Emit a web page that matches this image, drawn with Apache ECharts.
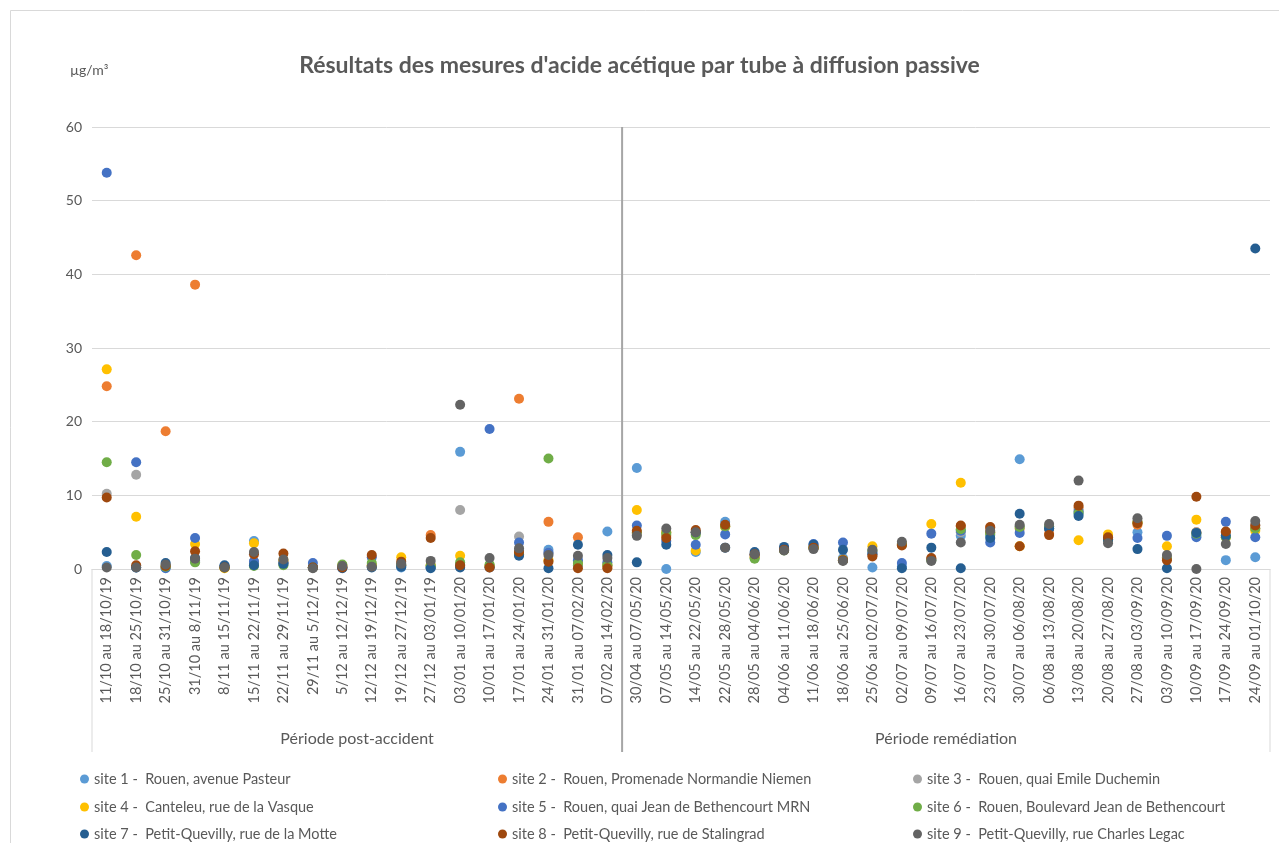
<!DOCTYPE html>
<html>
<head>
<meta charset="utf-8">
<title>Acide acétique</title>
<script src="https://cdn.jsdelivr.net/npm/echarts@6/dist/echarts.min.js"></script>
<style>
  html, body { margin: 0; padding: 0; background: #fff; }
  #main { width: 1279px; height: 843px; }
</style>
</head>
<body>
<div id="main"></div>
<script>
// periodes de mesure (axe des categories)
const categories = [
  '11/10 au 18/10/19', '18/10 au 25/10/19', '25/10 au 31/10/19', '31/10 au 8/11/19',
  '8/11 au 15/11/19', '15/11 au 22/11/19', '22/11 au 29/11/19', '29/11 au 5/12/19',
  '5/12 au 12/12/19', '12/12 au 19/12/19', '19/12 au 27/12/19', '27/12 au 03/01/19',
  '03/01 au 10/01/20', '10/01 au 17/01/20', '17/01 au 24/01/20', '24/01 au 31/01/20',
  '31/01 au 07/02/20', '07/02 au 14/02/20',
  '30/04 au 07/05/20', '07/05 au 14/05/20', '14/05 au 22/05/20', '22/05 au 28/05/20',
  '28/05 au 04/06/20', '04/06 au 11/06/20', '11/06 au 18/06/20', '18/06 au 25/06/20',
  '25/06 au 02/07/20', '02/07 au 09/07/20', '09/07 au 16/07/20', '16/07 au 23/07/20',
  '23/07 au 30/07/20', '30/07 au 06/08/20', '06/08 au 13/08/20', '13/08 au 20/08/20',
  '20/08 au 27/08/20', '27/08 au 03/09/20', '03/09 au 10/09/20', '10/09 au 17/09/20',
  '17/09 au 24/09/20', '24/09 au 01/10/20'
];
const periods = ['Période post-accident', 'Période remédiation'];
const periodSplit = 18; // nb de categories dans la 1ere periode

const siteNames = [
  'site 1 -  Rouen, avenue Pasteur',
  'site 2 -  Rouen, Promenade Normandie Niemen',
  'site 3 -  Rouen, quai Emile Duchemin',
  'site 4 -  Canteleu, rue de la Vasque',
  'site 5 -  Rouen, quai Jean de Bethencourt MRN',
  'site 6 -  Rouen, Boulevard Jean de Bethencourt',
  'site 7 -  Petit-Quevilly, rue de la Motte',
  'site 8 -  Petit-Quevilly, rue de Stalingrad',
  'site 9 -  Petit-Quevilly, rue Charles Legac'
];
const siteColors = ['#5B9BD5', '#ED7D31', '#A5A5A5', '#FFC000', '#4472C4', '#70AD47', '#255E91', '#9E480E', '#636363'];

const site1 = [0.4, 0.2, 0.2, 1.0, 0.3, 3.8, 0.9, 0.2, 0.2, 0.3, 0.2, 0.3, 15.9, 0.3, 2.5, 2.6, 0.5, 5.1,
  13.7, 0.0, 2.3, 6.4, 1.5, 2.6, 2.9, 1.5, 0.2, 0.3, 1.3, 4.5, 4.6, 14.9, 5.5, 7.5, 4.0, 5.0, 1.5, 4.5, 1.2, 1.6];
const site2 = [24.8, 42.6, 18.7, 38.6, 0.2, 0.8, 0.8, 0.2, 0.3, 0.4, 0.5, 4.6, 0.3, 0.3, 23.1, 6.4, 4.3, 0.3,
  4.8, 4.5, 5.0, 5.8, 1.8, 2.7, 2.9, 1.3, 1.9, 3.3, 1.4, 5.8, 5.6, 5.5, 4.8, 8.3, 4.3, 6.0, 1.5, 5.0, 5.0, 5.5];
const site3 = [10.2, 12.8, 0.3, 1.2, 0.2, 1.0, 1.0, 0.2, 0.2, 0.5, 0.6, 0.5, 8.0, 0.4, 4.4, 2.2, 1.0, 0.5,
  4.6, 5.0, 4.9, 5.9, 1.8, 2.6, 2.9, 1.2, 2.4, 3.5, 1.2, 5.0, 5.0, 5.8, 5.8, 8.0, 3.8, 6.5, 1.6, 5.0, 4.5, 6.0];
const site4 = [27.1, 7.1, 0.3, 3.4, 0.1, 3.5, 1.2, 0.2, 0.5, 0.5, 1.6, 0.5, 1.8, 0.5, 2.0, 1.2, 0.8, 0.6,
  8.0, 5.0, 2.5, 5.7, 1.6, 2.6, 2.9, 1.2, 3.1, 3.4, 6.1, 11.7, 5.0, 3.1, 5.5, 3.9, 4.7, 6.3, 3.1, 6.7, 4.3, 5.2];
const site5 = [53.8, 14.5, 0.1, 4.2, 0.4, 1.0, 0.8, 0.8, 0.2, 1.6, 0.4, 0.2, 0.6, 19.0, 3.6, 2.2, 1.2, 0.9,
  5.9, 3.8, 3.3, 4.7, 2.0, 2.8, 3.4, 3.6, 2.2, 0.8, 4.8, 5.2, 3.6, 4.9, 5.5, 7.8, 4.0, 4.2, 4.5, 4.3, 6.4, 4.3];
const site6 = [14.5, 1.9, 0.3, 0.9, 0.2, 0.4, 0.5, 0.2, 0.6, 0.8, 0.5, 0.4, 0.9, 0.6, 2.0, 15.0, 0.7, 0.5,
  5.0, 4.8, 4.6, 5.8, 1.4, 2.5, 2.9, 1.2, 2.5, 3.3, 1.2, 5.4, 4.8, 5.7, 5.8, 7.6, 4.0, 6.3, 1.4, 4.8, 4.3, 5.5];
const site7 = [2.3, 0.2, 0.8, 1.5, 0.5, 0.5, 0.7, 0.2, 0.1, 0.2, 0.3, 0.1, 0.2, 0.2, 1.8, 0.1, 3.3, 1.9,
  0.9, 3.3, 5.0, 2.9, 2.3, 3.0, 3.3, 2.6, 2.0, 0.1, 2.9, 0.1, 4.2, 7.5, 5.5, 7.2, 4.0, 2.7, 0.1, 4.9, 4.5, 43.5];
const site8 = [9.7, 0.5, 0.4, 2.4, 0.2, 2.0, 2.1, 0.2, 0.2, 1.9, 1.0, 4.2, 0.5, 0.2, 2.3, 1.0, 0.1, 0.1,
  5.2, 4.2, 5.3, 6.0, 2.0, 2.6, 2.9, 1.2, 1.7, 3.2, 1.5, 5.9, 5.7, 3.1, 4.6, 8.6, 4.3, 6.2, 1.2, 9.8, 5.1, 5.9];
const site9 = [0.2, 0.2, 0.6, 1.4, 0.2, 2.3, 1.3, 0.1, 0.4, 0.3, 0.7, 1.1, 22.3, 1.5, 2.8, 1.9, 1.8, 1.5,
  4.5, 5.5, 5.0, 2.9, 2.0, 2.5, 2.7, 1.1, 2.6, 3.7, 1.1, 3.6, 5.2, 6.0, 6.1, 12.0, 3.5, 6.9, 1.9, 0.0, 3.4, 6.5];

const siteValues = [site1, site2, site3, site4, site5, site6, site7, site8, site9];

const font = 'Lato, "Open Sans", sans-serif';
const textGray = '#595959';

let myChart = echarts.init(document.getElementById('main'));

// une legende par site, placee en grille 3 x 3 comme dans Excel
const legendLefts = [80, 498, 913];
const legendRows = [779, 807, 834];
function legendItem(idx) {
  return {
    data: [siteNames[idx]],
    left: legendLefts[idx % 3],
    top: legendRows[Math.floor(idx / 3)] - 8,
    padding: 0,
    itemWidth: 9,
    itemHeight: 9,
    icon: 'circle',
    selectedMode: false,
    textStyle: { color: textGray, fontFamily: font, fontSize: 14.5, lineHeight: 16 }
  };
}

let option = {
  animation: false,
  backgroundColor: '#fff',
  title: {
    text: "Résultats des mesures d'acide acétique par tube à diffusion passive",
    left: 'center',
    top: 49,
    textStyle: { color: textGray, fontFamily: font, fontSize: 23, fontWeight: 'bold' }
  },
  grid: { left: 92, right: 9, top: 127, bottom: 274 },
  legend: siteNames.map((n, i) => legendItem(i)),
  xAxis: {
    type: 'category',
    data: categories,
    boundaryGap: true,
    axisLine: { lineStyle: { color: '#d9d9d9' } },
    axisTick: { show: false },
    axisLabel: {
      interval: 0,
      rotate: 90,
      margin: 8,
      color: textGray,
      fontFamily: font,
      fontSize: 14.5
    }
  },
  yAxis: {
    type: 'value',
    min: 0,
    max: 60,
    interval: 10,
    axisLine: { show: false },
    axisTick: { show: false },
    axisLabel: { color: textGray, fontFamily: font, fontSize: 14, margin: 10 },
    splitLine: { lineStyle: { color: '#d9d9d9', width: 1 } }
  },
  series: siteValues.map((vals, i) => ({
    name: siteNames[i],
    type: 'scatter',
    data: vals,
    symbol: 'circle',
    symbolSize: 10,
    itemStyle: { color: siteColors[i], opacity: 1 }
  }))
};

myChart.setOption(option);

// cadre multi-niveaux de l'axe x + separation des periodes
let p0 = myChart.convertToPixel({ xAxisIndex: 0 }, 0);
let p1 = myChart.convertToPixel({ xAxisIndex: 0 }, 1);
let bw = p1 - p0;
let xLeft = p0 - bw / 2;
let xSplit = myChart.convertToPixel({ xAxisIndex: 0 }, periodSplit) - bw / 2;
let xRight = myChart.convertToPixel({ xAxisIndex: 0 }, categories.length - 1) + bw / 2;
let yTop = myChart.convertToPixel({ yAxisIndex: 0 }, 60);
let yZero = myChart.convertToPixel({ yAxisIndex: 0 }, 0);
let yBottom = 752;

myChart.setOption({
  graphic: [
    { type: 'rect', shape: { x: 10.5, y: 10.5, width: 1300, height: 900 },
      style: { fill: 'none', stroke: '#d9d9d9', lineWidth: 1 }, silent: true },
    { type: 'text', left: 70, top: 63,
      style: { text: 'µg/m³', fill: textGray, font: '14px ' + font } },
    { type: 'line', shape: { x1: xLeft, y1: yZero, x2: xLeft, y2: yBottom },
      style: { stroke: '#d9d9d9', lineWidth: 1 } },
    { type: 'line', shape: { x1: xRight, y1: yZero, x2: xRight, y2: yBottom },
      style: { stroke: '#d9d9d9', lineWidth: 1 } },
    { type: 'line', shape: { x1: xSplit, y1: yTop, x2: xSplit, y2: yBottom },
      style: { stroke: '#a6a6a6', lineWidth: 2 }, z: 1 },
    { type: 'text', x: (xLeft + xSplit) / 2, y: 739,
      style: { text: periods[0], fill: textGray, font: '16px ' + font, textAlign: 'center', textVerticalAlign: 'middle' } },
    { type: 'text', x: (xSplit + xRight) / 2, y: 739,
      style: { text: periods[1], fill: textGray, font: '16px ' + font, textAlign: 'center', textVerticalAlign: 'middle' } }
  ]
});
</script>
</body>
</html>
